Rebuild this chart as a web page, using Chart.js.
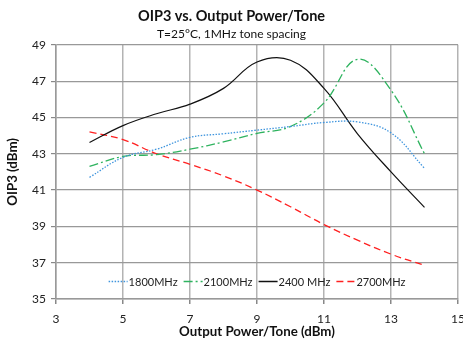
<!DOCTYPE html>
<html>
<head>
<meta charset="utf-8">
<script src="https://cdn.jsdelivr.net/npm/chart.js@4/dist/chart.umd.min.js"></script>
<style>
  html, body { margin: 0; padding: 0; background: #fff; }
  #wrap { width: 463px; height: 340px; }
</style>
</head>
<body>
<div id="wrap"><canvas id="oip3Chart" width="463" height="340"></canvas></div>
<script>
// output power per tone (dBm)
const power = [4, 5, 6, 7, 8, 9, 10, 11, 12, 13, 14]

// OIP3 (dBm) per frequency
const oip3_1800 = [41.7, 42.8, 43.25, 43.9, 44.1, 44.3, 44.5, 44.72, 44.75, 44.15, 42.2]
const oip3_2100 = [42.3, 42.85, 42.95, 43.25, 43.65, 44.12, 44.5, 45.8, 48.2, 46.5, 43.0]
const oip3_2400 = [43.62, 44.55, 45.2, 45.73, 46.6, 48.05, 48.15, 46.6, 44.1, 42.0, 40.05]
const oip3_2700 = [44.2, 43.78, 43.0, 42.42, 41.78, 41.0, 40.08, 39.1, 38.24, 37.47, 36.85]

const seriesNames = ["1800MHz", "2100MHz", "2400 MHz", "2700MHz"]

const xTicks = [3, 5, 7, 9, 11, 13, 15]
const yTicks = [35, 37, 39, 41, 43, 45, 47, 49]

const FONT = "Lato, 'Open Sans', sans-serif"

function points(values) {
    return values.map((v, i) => ({ x: power[i], y: v }))
}

function line(label, values, color, dash, width) {
    return {
        label: label,
        data: points(values),
        borderColor: color,
        backgroundColor: color,
        borderDash: dash,
        borderWidth: width,
        pointRadius: 0,
        tension: 0.4,
        fill: false
    }
}

// legend drawn inside the plot, near its bottom edge
const innerLegend = {
    id: "innerLegend",
    afterDraw(chart) {
        const ctx = chart.ctx
        const area = chart.chartArea
        const y = area.bottom - 18
        const sample = 19
        const gap = 1
        const spacing = 6
        ctx.save()
        ctx.font = "11px " + FONT
        ctx.textBaseline = "middle"
        const sets = chart.data.datasets
        let total = 0
        sets.forEach(ds => { total += sample + gap + ctx.measureText(ds.label).width + spacing })
        total -= spacing
        let x = (area.left + area.right) / 2 - total / 2
        sets.forEach(ds => {
            ctx.strokeStyle = ds.borderColor
            ctx.lineWidth = Math.max(ds.borderWidth, 1.5)
            ctx.setLineDash(ds.borderDash || [])
            ctx.beginPath()
            ctx.moveTo(x, y + 0.5)
            ctx.lineTo(x + sample, y + 0.5)
            ctx.stroke()
            ctx.setLineDash([])
            x += sample + gap
            ctx.fillStyle = "#222"
            ctx.fillText(ds.label, x, y + 1)
            x += ctx.measureText(ds.label).width + spacing
        })
        ctx.restore()
    }
}

new Chart(document.getElementById("oip3Chart"), {
    type: "line",
    data: {
        datasets: [
            line(seriesNames[0], oip3_1800, "#3f95de", [1.5, 1.5], 1.3),
            line(seriesNames[1], oip3_2100, "#2fb35f", [9, 3, 2, 3], 1.3),
            line(seriesNames[2], oip3_2400, "#111111", [], 1.2),
            line(seriesNames[3], oip3_2700, "#ff2020", [7, 4], 1.3)
        ]
    },
    options: {
        responsive: false,
        animation: false,
        layout: { padding: { left: 5, right: 5, top: 6, bottom: 0 } },
        plugins: {
            legend: { display: false },
            tooltip: { enabled: false },
            title: {
                display: true,
                text: "OIP3 vs. Output Power/Tone",
                color: "#111",
                font: { family: FONT, size: 14.5, weight: "bold" },
                padding: { top: 2, bottom: 2 }
            },
            subtitle: {
                display: true,
                text: "T=25°C, 1MHz tone spacing",
                color: "#111",
                font: { family: FONT, size: 12 },
                padding: { top: 0, bottom: 3 }
            }
        },
        scales: {
            x: {
                type: "linear",
                min: xTicks[0],
                max: xTicks[xTicks.length - 1],
                afterBuildTicks: s => { s.ticks = xTicks.map(v => ({ value: v })) },
                afterFit: s => { s.height = 41; s.paddingLeft = 0; s.paddingRight = 0 },
                grid: { color: "#b3b3b3", lineWidth: 1.5, tickLength: 5, tickColor: "#888" },
                border: { color: "#999", width: 1.5 },
                ticks: { color: "#222", font: { family: FONT, size: 12 }, padding: 8, maxRotation: 0 },
                title: {
                    display: true,
                    text: "Output Power/Tone (dBm)",
                    color: "#111",
                    font: { family: FONT, size: 13.3, weight: "bold" },
                    padding: { top: 1, bottom: 0 }
                }
            },
            y: {
                min: yTicks[0],
                max: yTicks[yTicks.length - 1],
                afterBuildTicks: s => { s.ticks = yTicks.map(v => ({ value: v })) },
                afterFit: s => { s.width = 51; s.paddingTop = 0; s.paddingBottom = 0 },
                grid: { color: "#999", lineWidth: 1.2, tickLength: 5, tickColor: "#888" },
                border: { color: "#999", width: 1.5 },
                ticks: { color: "#222", font: { family: FONT, size: 12 }, padding: 5 },
                title: {
                    display: true,
                    text: "OIP3 (dBm)",
                    color: "#111",
                    font: { family: FONT, size: 13.3, weight: "bold" },
                    padding: { top: 0, bottom: 1 }
                }
            }
        }
    },
    plugins: [innerLegend]
})
</script>
</body>
</html>
